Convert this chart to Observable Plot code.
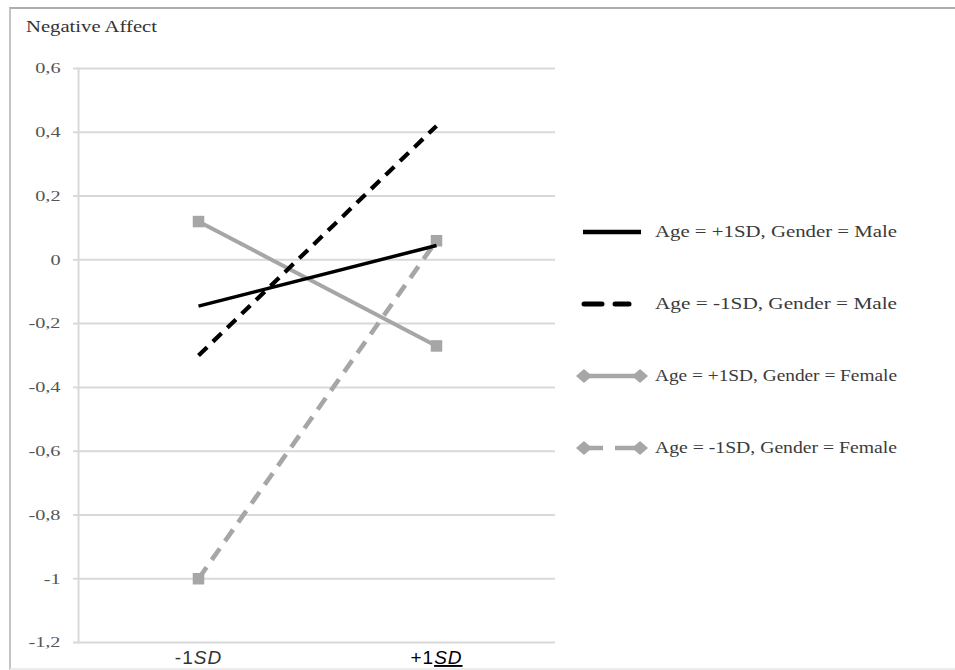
<!DOCTYPE html>
<html>
<head>
<meta charset="utf-8">
<script src="https://cdn.jsdelivr.net/npm/d3@7"></script>
<script src="https://cdn.jsdelivr.net/npm/@observablehq/plot@0.6"></script>
<style>
  html, body { margin: 0; padding: 0; background: #fff; }
  #wrap { position: relative; width: 955px; height: 670px; overflow: hidden; }
  #frame { position: absolute; left: 9px; top: 7px; width: 960px; height: 659px;
           border-top: 2px solid #adadad; border-left: 2px solid #c4c4c4; border-bottom: 2px solid #ececec; }
  #chart { position: absolute; left: 0; top: 0; }
</style>
</head>
<body>
<div id="wrap">
  <div id="frame"></div>
  <div id="chart"></div>
</div>
<script>
const title = "Negative Affect";
const categories = ["-1SD", "+1SD"];
const seriesNames = [
  "Age = +1SD, Gender = Male",
  "Age = -1SD, Gender = Male",
  "Age = +1SD, Gender = Female",
  "Age = -1SD, Gender = Female"
];
const ageHighMale = [-0.145, 0.045];
const ageLowMale = [-0.30, 0.42];
const ageHighFemale = [0.12, -0.27];
const ageLowFemale = [-1.0, 0.06];
const yTicks = [0.6, 0.4, 0.2, 0, -0.2, -0.4, -0.6, -0.8, -1, -1.2];

const seriesValues = [ageHighMale, ageLowMale, ageHighFemale, ageLowFemale];
const styles = [
  {stroke: "#000000", width: 3.5, dash: null, marker: false},
  {stroke: "#000000", width: 4.2, dash: "12,8", marker: false},
  {stroke: "#a6a6a6", width: 4, dash: null, marker: true},
  {stroke: "#a6a6a6", width: 4.6, dash: "14,9", marker: true}
];

const rows = [];
seriesNames.forEach((s, i) => {
  categories.forEach((c, j) => rows.push({series: s, idx: i, cat: c, value: seriesValues[i][j]}));
});

const fmt = v => String(v).replace(".", ",");

const marks = [
  Plot.gridY(yTicks, {stroke: "#d9d9d9", strokeOpacity: 1, strokeWidth: 2}),
  Plot.frame({anchor: "left", stroke: "#d9d9d9", strokeWidth: 2}),
  Plot.axisY(yTicks, {tickSize: 5, stroke: "#d9d9d9", strokeWidth: 2, tickPadding: 13,
    tickFormat: fmt, fill: "#555"}),
  Plot.axisX({tickSize: 0, tickPadding: 8, fill: "#222"})
];
const order = [3, 2, 1, 0];
order.forEach(i => {
  const st = styles[i];
  const data = rows.filter(r => r.idx === i);
  marks.push(Plot.line(data, {x: "cat", y: "value", stroke: st.stroke, strokeWidth: st.width,
    strokeDasharray: st.dash, strokeLinecap: "butt"}));
  if (st.marker) {
    marks.push(Plot.dot(data, {x: "cat", y: "value", symbol: "square", r: 6.5, fill: st.stroke, stroke: null}));
  }
});

const chart = Plot.plot({
  width: 955,
  height: 670,
  marginLeft: 78,
  marginRight: 400,
  marginTop: 68,
  marginBottom: 28,
  style: {background: "transparent", overflow: "visible"},
  x: {type: "point", domain: categories, padding: 0.5, label: null},
  y: {domain: [-1.2, 0.6], label: null},
  marks
});

const svg = d3.select(chart);
svg.selectAll('g[aria-label="y-axis tick label"] text')
  .style("font-family", "'Liberation Serif', serif").style("font-size", "15px")
  .each(function() {
    const t = d3.select(this);
    const tr = t.attr("transform") || "";
    t.attr("transform", tr + " scale(1.35,1)");
  });
svg.selectAll('g[aria-label="x-axis tick label"] text')
  .style("font-family", "'Liberation Sans', Arial, sans-serif").style("font-size", "19px")
  .style("letter-spacing", "1px");

// rich tick labels: "SD" italic, +1SD underlined
svg.selectAll('g[aria-label="x-axis tick label"] text').each(function() {
  const t = d3.select(this);
  const txt = t.text();
  t.text("");
  t.append("tspan").text(txt.slice(0, 2));
  const sd = t.append("tspan").text("SD").attr("font-style", "italic");
  if (txt.startsWith("+")) { sd.attr("text-decoration", "underline"); t.attr("fill", "#000"); }
  else t.attr("fill", "#333");
});

// title
svg.append("text").attr("x", 26).attr("y", 32).attr("text-anchor", "start")
  .style("font-family", "'Liberation Serif', serif").style("font-size", "16px")
  .attr("fill", "#333").attr("textLength", 131).attr("lengthAdjust", "spacingAndGlyphs")
  .text(title);

// legend
const lg = svg.append("g").attr("aria-label", "legend").attr("text-anchor", "start");
const legendY = [232, 304, 376, 448];
seriesNames.forEach((name, i) => {
  const st = styles[i];
  const g = lg.append("g").attr("transform", `translate(0,${legendY[i]})`);
  if (i === 1) {
    g.append("line").attr("x1", 584).attr("x2", 602).attr("y1", 0).attr("y2", 0)
      .attr("stroke", st.stroke).attr("stroke-width", 5).attr("stroke-linecap", "round");
    g.append("line").attr("x1", 615).attr("x2", 629).attr("y1", 0).attr("y2", 0)
      .attr("stroke", st.stroke).attr("stroke-width", 5).attr("stroke-linecap", "round");
  } else if (i === 3) {
    g.append("line").attr("x1", 583).attr("x2", 603).attr("y1", 0).attr("y2", 0)
      .attr("stroke", st.stroke).attr("stroke-width", 4.5);
    g.append("line").attr("x1", 615).attr("x2", 640).attr("y1", 0).attr("y2", 0)
      .attr("stroke", st.stroke).attr("stroke-width", 4.5);
  } else {
    g.append("line").attr("x1", 583).attr("x2", 641).attr("y1", 0).attr("y2", 0)
      .attr("stroke", st.stroke).attr("stroke-width", 4.5);
  }
  if (st.marker) {
    [584, 640].forEach(cx => {
      g.append("path").attr("d", `M${cx - 8},0L${cx},-7L${cx + 8},0L${cx},7Z`).attr("fill", st.stroke);
    });
  }
  g.append("text").attr("x", 655).attr("y", 5)
    .style("font-family", "'Liberation Serif', serif").style("font-size", "16px")
    .attr("fill", "#3a3a3a").attr("textLength", 242).attr("lengthAdjust", "spacingAndGlyphs")
    .text(name);
});

document.getElementById("chart").appendChild(chart);
</script>
</body>
</html>
